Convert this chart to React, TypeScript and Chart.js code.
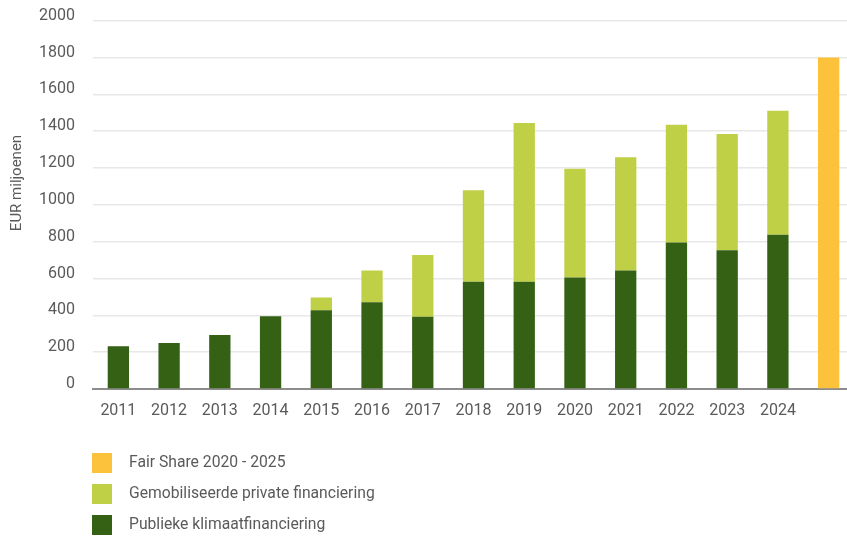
import React, { useEffect, useRef } from 'react';
import { Chart, registerables } from 'chart.js';

Chart.register(...registerables);

const categories = ['2011', '2012', '2013', '2014', '2015', '2016', '2017', '2018', '2019', '2020', '2021', '2022', '2023', '2024', ''];
const publiekeKlimaatfinanciering = [232, 250, 293, 395, 427, 471, 393, 583, 583, 606, 643, 796, 753, 838, null];
const gemobiliseerdePrivate = [null, null, null, null, 70, 172, 335, 496, 861, 590, 615, 639, 632, 673, null];
const fairShare = [null, null, null, null, null, null, null, null, null, null, null, null, null, null, 1800];
const yTickStep = 200;
const yMax = 2000;
const yTitle = 'EUR miljoenen';

const FONT = 'Roboto, "DejaVu Sans", sans-serif';
const TEXT = '#5a5a5a';

const customText = {
  id: 'customText',
  afterDraw(chart: any) {
    const ctx = chart.ctx;
    ctx.save();
    // y axis title
    ctx.font = `15px ${FONT}`;
    ctx.fillStyle = TEXT;
    ctx.translate(17, 183);
    ctx.rotate(-Math.PI / 2);
    ctx.textAlign = 'center';
    ctx.textBaseline = 'middle';
    ctx.fillText(yTitle, 0, 0);
    ctx.restore();

    // legend (vertical, bottom-left)
    ctx.save();
    const ds = chart.data.datasets;
    const order = [2, 1, 0];
    ctx.font = `15.7px ${FONT}`;
    ctx.textAlign = 'left';
    ctx.textBaseline = 'middle';
    order.forEach((idx, i) => {
      const d = ds[idx];
      const top = 453 + i * 31;
      ctx.fillStyle = d.backgroundColor;
      ctx.fillRect(92, top, 20, 20);
      ctx.fillStyle = TEXT;
      ctx.fillText(d.label, 129, top + 10.5);
    });
    ctx.restore();
  },
};

export default function App() {
  const ref = useRef<HTMLCanvasElement>(null);
  useEffect(() => {
    const chart = new Chart(ref.current as HTMLCanvasElement, {
      type: 'bar',
      data: {
        labels: categories,
        datasets: [
          { label: 'Publieke klimaatfinanciering', data: publiekeKlimaatfinanciering, backgroundColor: '#346114' },
          { label: 'Gemobiliseerde private financiering', data: gemobiliseerdePrivate, backgroundColor: '#bfd047' },
          { label: 'Fair Share 2020 - 2025', data: fairShare, backgroundColor: '#fcc23c' },
        ] as any,
      },
      options: {
        animation: false,
        responsive: false,
        maintainAspectRatio: false,
        datasets: { bar: { categoryPercentage: 1, barPercentage: 0.42 } } as any,
        layout: { padding: { top: 20.7, bottom: 110, left: 0, right: 0 } },
        plugins: { legend: { display: false }, tooltip: { enabled: false } },
        scales: {
          x: {
            stacked: true,
            grid: { display: false, drawTicks: false },
            border: { display: true, color: '#8c8c8c', width: 2 },
            ticks: { color: TEXT, font: { family: FONT, size: 16 }, padding: 12, maxRotation: 0, autoSkip: false },
            afterFit: (s: any) => { s.height = 40; s.paddingLeft = 0; s.paddingRight = 0; },
          },
          y: {
            stacked: true,
            min: 0,
            max: yMax,
            grid: { color: '#e8e8e8', lineWidth: 1.5, drawTicks: false },
            border: { display: false },
            ticks: {
              stepSize: yTickStep,
              color: TEXT,
              font: { family: FONT, size: 16 },
              padding: 18,
              labelOffset: -5,
              callback: (v: any) => String(v),
            },
            afterFit: (s: any) => { s.width = 93; s.paddingTop = 0; s.paddingBottom = 0; },
          },
        },
      },
      plugins: [customText],
    });
    return () => chart.destroy();
  }, []);
  return (
    <div style={{ position: 'fixed', left: 0, top: 0, width: 847, height: 539, overflow: 'hidden', background: '#fff' }}>
      <canvas ref={ref} width={854} height={539} style={{ width: 854, height: 539, display: 'block' }} />
    </div>
  );
}
